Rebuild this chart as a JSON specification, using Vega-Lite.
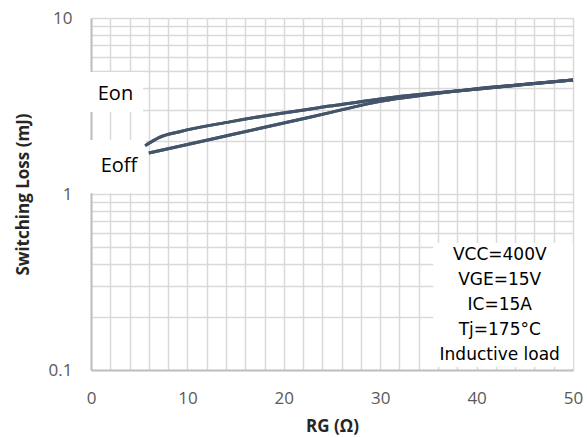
{
  "$schema": "https://vega.github.io/schema/vega-lite/v6.json",
  "autosize": "none",
  "width": 482,
  "height": 352,
  "padding": {"left": 91, "top": 18, "right": 14, "bottom": 68},
  "background": "white",
  "config": {"view": {"stroke": null}, "font": "Open Sans"},
  "datasets": {
    "curves": [
      {"rg": 5.6, "loss": 1.88, "series": "Eon"},
      {"rg": 7.1, "loss": 2.1, "series": "Eon"},
      {"rg": 9.2, "loss": 2.26, "series": "Eon"},
      {"rg": 14.4, "loss": 2.57, "series": "Eon"},
      {"rg": 19.6, "loss": 2.87, "series": "Eon"},
      {"rg": 24.8, "loss": 3.16, "series": "Eon"},
      {"rg": 30, "loss": 3.47, "series": "Eon"},
      {"rg": 35, "loss": 3.72, "series": "Eon"},
      {"rg": 40, "loss": 3.94, "series": "Eon"},
      {"rg": 45, "loss": 4.19, "series": "Eon"},
      {"rg": 50, "loss": 4.44, "series": "Eon"},
      {"rg": 6.0, "loss": 1.71, "series": "Eoff"},
      {"rg": 10, "loss": 1.91, "series": "Eoff"},
      {"rg": 15, "loss": 2.2, "series": "Eoff"},
      {"rg": 20, "loss": 2.53, "series": "Eoff"},
      {"rg": 25, "loss": 2.92, "series": "Eoff"},
      {"rg": 30, "loss": 3.36, "series": "Eoff"},
      {"rg": 35, "loss": 3.67, "series": "Eoff"},
      {"rg": 40, "loss": 3.96, "series": "Eoff"},
      {"rg": 45, "loss": 4.2, "series": "Eoff"},
      {"rg": 50, "loss": 4.44, "series": "Eoff"}
    ],
    "boxes": [
      {"x1": -0.6, "x2": 5.4, "y1": 2.92, "y2": 4.93},
      {"x1": -0.6, "x2": 5.7, "y1": 1.01, "y2": 2.03},
      {"x1": 35.5, "x2": 50, "y1": 0.104, "y2": 0.527}
    ],
    "seriesLabels": [
      {"rg": 0.7, "loss": 3.7, "text": "Eon"},
      {"rg": 1.0, "loss": 1.44, "text": "Eoff"}
    ],
    "notes": [
      {"rg": 42.4, "loss": 0.45, "text": "VCC=400V"},
      {"rg": 42.4, "loss": 0.325, "text": "VGE=15V"},
      {"rg": 42.4, "loss": 0.234, "text": "IC=15A"},
      {"rg": 42.4, "loss": 0.169, "text": "Tj=175°C"},
      {"rg": 42.4, "loss": 0.1217, "text": "Inductive load"}
    ]
  },
  "layer": [
    {
      "data": {"name": "curves"},
      "mark": {"type": "line", "strokeWidth": 3, "clip": false, "interpolate": "monotone"},
      "encoding": {
        "x": {
          "field": "rg", "type": "quantitative",
          "scale": {"domain": [0, 50], "nice": false, "zero": false},
          "axis": {
            "title": "RG (Ω)",
            "values": [0,2,4,6,8,10,12,14,16,18,20,22,24,26,28,30,32,34,36,38,40,42,44,46,48,50],
            "tickCount": 100,
            "format": "d",
            "labelExpr": "datum.value % 10 === 0 ? datum.label : ''",
            "labelOverlap": false,
            "ticks": false,
            "labelPadding": 20,
            "labelFontSize": 17,
            "labelColor": "#595959",
            "labelFont": "Open Sans",
            "labelFlush": false,
            "domainColor": "#bfbfbf",
            "domainWidth": 2,
            "gridColor": "#d9d9d9",
            "gridWidth": 1.5,
            "titleFont": "Open Sans",
            "titleFontSize": 17,
            "titleFontWeight": "bold",
            "titleColor": "#262626",
            "titlePadding": 12
          }
        },
        "y": {
          "field": "loss", "type": "quantitative",
          "scale": {"type": "log", "domain": [0.1, 10], "nice": false},
          "axis": {
            "title": "Switching Loss (mJ)",
            "values": [0.1,0.2,0.3,0.4,0.5,0.6,0.7,0.8,0.9,1,2,3,4,5,6,7,8,9,10],
            "tickCount": 100,
            "labelExpr": "(datum.value == 0.1 || datum.value == 1 || datum.value == 10) ? datum.label : ''",
            "labelOverlap": false,
            "ticks": false,
            "labelPadding": 19,
            "labelFontSize": 17,
            "labelColor": "#595959",
            "labelFont": "Open Sans",
            "labelFlush": false,
            "domainColor": "#bfbfbf",
            "domainWidth": 2,
            "gridColor": "#d9d9d9",
            "gridWidth": 1.5,
            "titleFont": "Open Sans",
            "titleFontSize": 17,
            "titleFontWeight": "bold",
            "titleColor": "#262626",
            "titlePadding": 16
          }
        },
        "detail": {"field": "series", "type": "nominal"},
        "color": {"value": "#44546a"}
      }
    },
    {
      "data": {"name": "boxes"},
      "mark": {"type": "rect", "fill": "white", "clip": false},
      "encoding": {
        "x": {"field": "x1", "type": "quantitative"},
        "x2": {"field": "x2"},
        "y": {"field": "y1", "type": "quantitative"},
        "y2": {"field": "y2"}
      }
    },
    {
      "data": {"name": "curves"},
      "mark": {"type": "line", "strokeWidth": 3, "clip": false, "interpolate": "monotone"},
      "encoding": {
        "x": {"field": "rg", "type": "quantitative"},
        "y": {"field": "loss", "type": "quantitative"},
        "detail": {"field": "series", "type": "nominal"},
        "color": {"value": "#44546a"}
      }
    },
    {
      "data": {"name": "seriesLabels"},
      "mark": {"type": "text", "align": "left", "baseline": "middle", "fontSize": 20, "font": "Open Sans", "color": "black", "clip": false},
      "encoding": {
        "x": {"field": "rg", "type": "quantitative"},
        "y": {"field": "loss", "type": "quantitative"},
        "text": {"field": "text"}
      }
    },
    {
      "data": {"name": "notes"},
      "mark": {"type": "text", "align": "center", "baseline": "middle", "fontSize": 17, "font": "DejaVu Sans", "color": "black", "clip": false},
      "encoding": {
        "x": {"field": "rg", "type": "quantitative"},
        "y": {"field": "loss", "type": "quantitative"},
        "text": {"field": "text"}
      }
    }
  ]
}
